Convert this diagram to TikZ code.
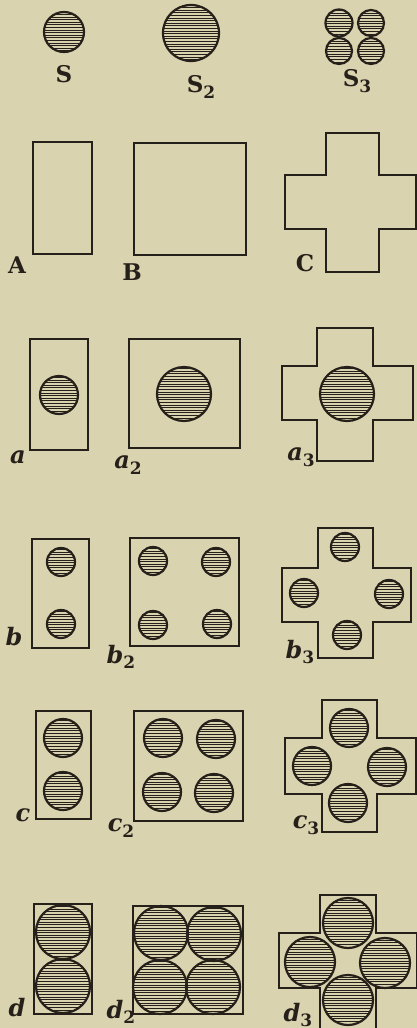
\documentclass[tikz,border=0pt]{standalone}
\usepackage{fontspec}
\newfontfamily\clar{DejaVu Serif}
\definecolor{paper}{RGB}{218,211,175}
\definecolor{ink}{RGB}{38,32,26}
\newcommand\lowsub[1]{\raisebox{-0.45ex}{\fontsize{8.5}{10}\selectfont\upshape #1}}
\newcommand\crossfig[8]{%
  \draw[outline] (#1,#6) -- (#2,#6) -- (#2,#5) -- (#3,#5) -- (#3,#6) -- (#4,#6)
     -- (#4,#7) -- (#3,#7) -- (#3,#8) -- (#2,#8) -- (#2,#7) -- (#1,#7) -- cycle;}
\newcommand\hcirc[3]{%
  \begin{scope}
    \clip (#1,#2) circle[radius=#3];
    \foreach \k in {-30,...,30}{%
      \draw[hline] (#1-#3,#2+\k*2.6+0.7) -- (#1+#3,#2+\k*2.6+0.7);}
  \end{scope}
  \draw[ring] (#1,#2) circle[radius=#3];}
\begin{document}
\begin{tikzpicture}[x=0.5pt,y=-0.5pt,
  outline/.style={draw=ink,line width=1pt,line join=miter},
  ring/.style={draw=ink,line width=1.1pt},
  hline/.style={draw=ink,line width=0.5pt},
  up/.style={text=ink,inner sep=0pt,font=\fontsize{11.5}{14}\selectfont\clar\bfseries},
  lo/.style={text=ink,inner sep=0pt,font=\fontsize{12}{15}\selectfont\clar\bfseries\itshape}]
\fill[paper] (0,0) rectangle (417,1028);
\useasboundingbox (0,0) rectangle (417,1028);
\clip (0,0) rectangle (417,1028);

% --- row S ---
\hcirc{64}{32}{20}
\hcirc{191}{33}{28}
\hcirc{339}{23}{13.5}
\hcirc{371}{23}{13}
\hcirc{339}{51}{13}
\hcirc{371}{51}{13}
\node[up] (labS)  at (64,74)  {S};
\node[up] (labS2) at (201,87) {S\lowsub{\bfseries 2}};
\node[up] (labS3) at (357,81) {S\lowsub{\bfseries 3}};

% --- row A B C ---
\draw[outline] (33,142) rectangle (92,254);
\draw[outline] (134,143) rectangle (246,255);
\crossfig{285}{326}{379}{416}{133}{175}{229}{272}
\node[up] (labA) at (17,265) {A};
\node[up] (labB) at (132,272) {B};
\node[up] (labC) at (305,263) {C};

% --- row a ---
\draw[outline] (30,339) rectangle (88,450);
\hcirc{59}{395}{19}
\draw[outline] (129,339) rectangle (240,448);
\hcirc{184}{394}{27}
\crossfig{282}{317}{373}{413}{328}{366}{420}{461}
\hcirc{347}{394}{27}
\node[lo] (laba)  at (18,457)  {a};
\node[lo] (laba2) at (128,465) {a\lowsub{\bfseries 2}};
\node[lo] (laba3) at (301,457) {a\lowsub{\bfseries 3}};

% --- row b ---
\draw[outline] (32,539) rectangle (89,648);
\hcirc{61}{562}{14}
\hcirc{61}{624}{14}
\draw[outline] (130,538) rectangle (239,646);
\hcirc{153}{561}{14}
\hcirc{216}{562}{14}
\hcirc{153}{625}{14}
\hcirc{217}{624}{14}
\crossfig{282}{318}{373}{411}{528}{568}{622}{658}
\hcirc{345}{547}{14}
\hcirc{304}{593}{14}
\hcirc{389}{594}{14}
\hcirc{347}{635}{14}
\node[lo] (labb)  at (14,637)  {b};
\node[lo] (labb2) at (121,657) {b\lowsub{\bfseries 2}};
\node[lo] (labb3) at (300,652) {b\lowsub{\bfseries 3}};

% --- row c ---
\draw[outline] (36,711) rectangle (91,819);
\hcirc{63}{738}{19}
\hcirc{63}{791}{19}
\draw[outline] (134,711) rectangle (243,821);
\hcirc{163}{738}{19}
\hcirc{216}{739}{19}
\hcirc{162}{792}{19}
\hcirc{214}{793}{19}
\crossfig{285}{322}{377}{416}{700}{738}{794}{832}
\hcirc{349}{728}{19}
\hcirc{312}{766}{19}
\hcirc{387}{767}{19}
\hcirc{348}{803}{19}
\node[lo] (labc)  at (23,815)  {c};
\node[lo] (labc2) at (121,828) {c\lowsub{\bfseries 2}};
\node[lo] (labc3) at (306,825) {c\lowsub{\bfseries 3}};

% --- row d ---
\draw[outline] (34,904) rectangle (92,1014);
\hcirc{63}{932}{27}
\hcirc{63}{986}{27}
\draw[outline] (133,906) rectangle (243,1014);
\hcirc{161}{933}{27}
\hcirc{214}{934}{27}
\hcirc{160}{987}{27}
\hcirc{213}{987}{27}
\crossfig{279}{320}{376}{417}{895}{933}{988}{1040}
\hcirc{348}{923}{25}
\hcirc{310}{962}{25}
\hcirc{385}{963}{25}
\hcirc{348}{1000}{25}
\node[lo] (labd)  at (17,1008)  {d};
\node[lo] (labd2) at (121,1012) {d\lowsub{\bfseries 2}};
\node[lo] (labd3) at (298,1015) {d\lowsub{\bfseries 3}};
\end{tikzpicture}
\end{document}
